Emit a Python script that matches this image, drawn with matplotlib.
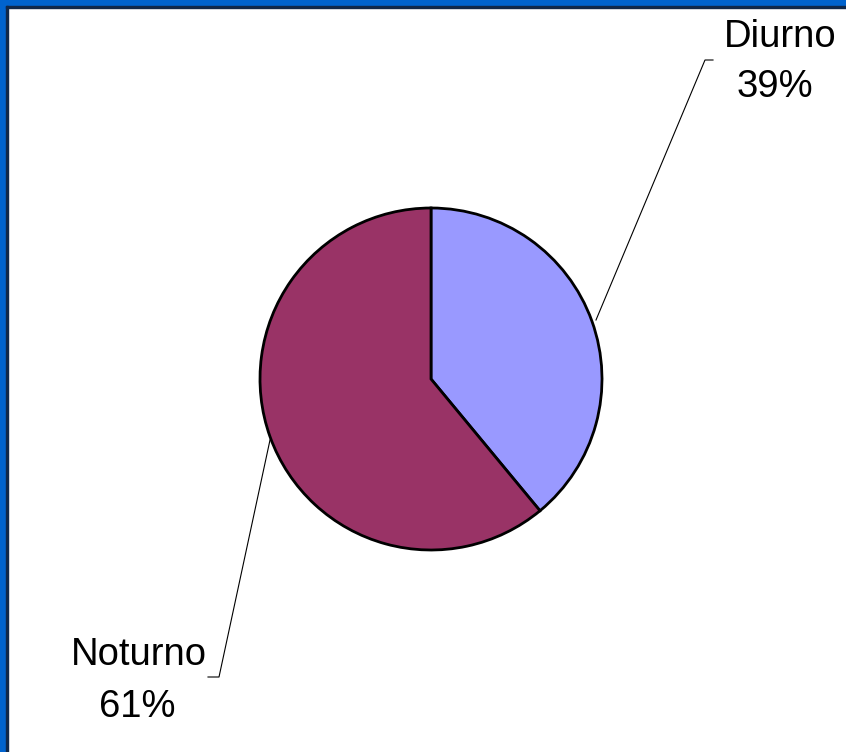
import matplotlib.pyplot as plt
from matplotlib.patches import Rectangle

labels = ["Diurno", "Noturno"]
values = [39, 61]
colors = ["#9999FF", "#993366"]

W, H = 846, 752
fig = plt.figure(figsize=(W / 100, H / 100), dpi=100)
fig.patch.set_facecolor("white")

ax = fig.add_axes([0, 0, 1, 1])
ax.set_xlim(0, W)
ax.set_ylim(0, H)
ax.set_aspect("equal")
ax.axis("off")

# slide frame (blue with dark inner line, cut off at right/bottom)
ax.add_patch(Rectangle((0, H - 6), W, 6, color="#0063CE", zorder=5))
ax.add_patch(Rectangle((0, 0), 6, H, color="#0063CE", zorder=5))
ax.add_patch(Rectangle((6, H - 8), W, 2, color="#10284A", zorder=5))
ax.add_patch(Rectangle((6, 0), 2, H - 6, color="#10284A", zorder=5))

cx, cy, r = 431, H - 379, 171
ax.pie(values, colors=colors, startangle=90, counterclock=False,
       center=(cx, cy), radius=r, frame=True,
       wedgeprops=dict(edgecolor="black", linewidth=2))
ax.set_xlim(0, W)
ax.set_ylim(0, H)
ax.axis("off")

# leader lines
ax.plot([596, 705, 713], [H - 320, H - 60, H - 60], color="black", lw=0.8)
ax.plot([270, 219, 208], [H - 440, H - 677, H - 677], color="black", lw=0.8)

font = dict(family="Liberation Sans", fontsize=27.5, ha="center", va="baseline")
ax.text(780, H - 47, labels[0], **font)
ax.text(775, H - 97, f"{values[0]}%", **font)
ax.text(138.5, H - 665, labels[1], **font)
ax.text(137.5, H - 717, f"{values[1]}%", **font)

fig.savefig("out.png", dpi=100)
